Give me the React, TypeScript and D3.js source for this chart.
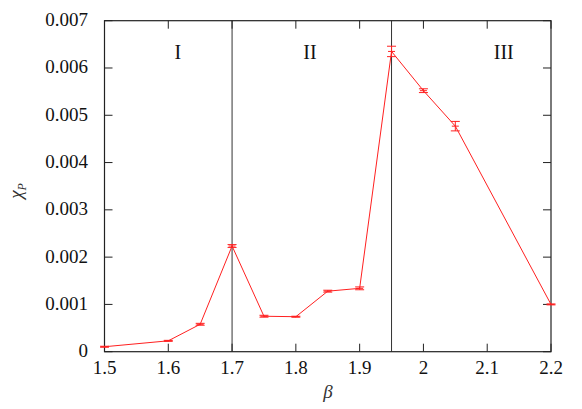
import React from "react";
import * as d3 from "d3";

const betas = [1.5, 1.6, 1.65, 1.7, 1.75, 1.8, 1.85, 1.9, 1.95, 2.0, 2.05, 2.2];
const chi = [0.000105, 0.00023, 0.00058, 0.002235, 0.00075, 0.00074, 0.00128, 0.00134, 0.00635, 0.00552, 0.00477, 0.001];
const errs = [0.00001, 0.00001, 0.00002, 0.00003, 0.00002, 0.00001, 0.00002, 0.00003, 0.00011, 0.00004, 0.0001, 0.00001];
const xTicks = [1.5, 1.6, 1.7, 1.8, 1.9, 2.0, 2.1, 2.2];
const xTickLabels = ["1.5", "1.6", "1.7", "1.8", "1.9", "2", "2.1", "2.2"];
const yTicks = [0, 0.001, 0.002, 0.003, 0.004, 0.005, 0.006, 0.007];
const yTickLabels = ["0", "0.001", "0.002", "0.003", "0.004", "0.005", "0.006", "0.007"];
const boundaries = [1.7, 1.95];
const regionLabels = ["I", "II", "III"];
const regionCenters = [1.615, 1.822, 2.126];

export default function App() {
  const W = 582, H = 409;
  const L = 104.5, R = 551, T = 20.7, B = 351.7;
  const x = d3.scaleLinear().domain([1.5, 2.2]).range([L, R]);
  const y = d3.scaleLinear().domain([0, 0.007]).range([B, T]);
  const line = d3.line<number>().x((_, i) => x(betas[i])).y((d) => y(d));
  const tstyle: React.CSSProperties = { fontFamily: "Liberation Serif", fontSize: 19 };
  const tk = 8;
  return (
    <svg width={W} height={H} style={{ position: "absolute", left: 0, top: 0, background: "#fff" }}>
      <rect x={0} y={0} width={W} height={H} fill="#fff" />
      {boundaries.map((b) => (
        <line key={b} x1={x(b)} x2={x(b)} y1={T} y2={B} stroke="#333" strokeWidth={1} />
      ))}
      {xTicks.map((t) => (
        <g key={"xt" + t}>
          <line x1={x(t)} x2={x(t)} y1={B} y2={B - tk} stroke="#222" />
          <line x1={x(t)} x2={x(t)} y1={T} y2={T + tk} stroke="#222" />
        </g>
      ))}
      {yTicks.map((t) => (
        <g key={"yt" + t}>
          <line x1={L} x2={L + tk} y1={y(t)} y2={y(t)} stroke="#222" />
          <line x1={R} x2={R - tk} y1={y(t)} y2={y(t)} stroke="#222" />
        </g>
      ))}
      <rect x={L} y={T} width={R - L} height={B - T} fill="none" stroke="#222" strokeWidth={1.2} />
      <path d={line(chi) || ""} fill="none" stroke="#ff2020" strokeWidth={1} />
      {chi.map((v, i) => {
        const cx = x(betas[i]);
        const y1 = y(v + errs[i]);
        const y2 = y(v - errs[i]);
        return (
          <g key={"e" + i} stroke="#ff2020" strokeWidth={1}>
            <line x1={cx} x2={cx} y1={y1} y2={y2} />
            <line x1={cx - 4.5} x2={cx + 4.5} y1={y1} y2={y1} />
            <line x1={cx - 4.5} x2={cx + 4.5} y1={y2} y2={y2} />
            <line x1={cx - 3.5} x2={cx + 3.5} y1={y(v)} y2={y(v)} />
          </g>
        );
      })}
      {xTicks.map((t, i) => (
        <text key={"xl" + t} x={x(t)} y={B + 22.5} textAnchor="middle" style={tstyle} fill="#111">
          {xTickLabels[i]}
        </text>
      ))}
      {yTicks.map((t, i) => (
        <text key={"yl" + t} x={88} y={y(t) + 5.5} textAnchor="end" style={tstyle} fill="#111">
          {yTickLabels[i]}
        </text>
      ))}
      {regionLabels.map((lab, i) => (
        <text key={lab} x={x(regionCenters[i])} y={59} textAnchor="middle" style={{ ...tstyle, fontSize: 20 }} fill="#111">
          {lab}
        </text>
      ))}
      <text x={328} y={398} textAnchor="middle" style={{ ...tstyle, fontStyle: "italic" }} fill="#333">
        β
      </text>
      <text transform="translate(22,191) rotate(-90)" textAnchor="middle" style={{ ...tstyle, fontStyle: "italic" }} fill="#333">
        χ
        <tspan style={{ fontSize: 12 }} dy={4}>P</tspan>
      </text>
    </svg>
  );
}
